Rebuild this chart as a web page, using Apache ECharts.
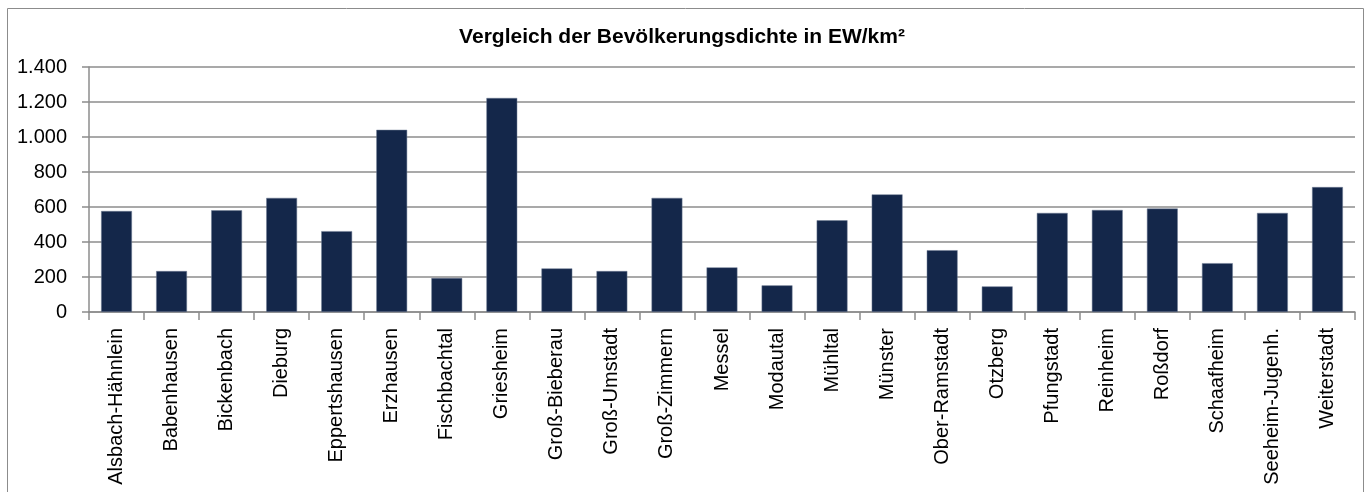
<!DOCTYPE html>
<html>
<head>
<meta charset="utf-8">
<script src="https://cdn.jsdelivr.net/npm/echarts@6/dist/echarts.min.js"></script>
<style>
  html, body { margin: 0; padding: 0; background: #fff; }
  #chart { width: 1368px; height: 492px; }
</style>
</head>
<body>
<div id="chart"></div>
<script>
var gemeinden = ['Alsbach-Hähnlein', 'Babenhausen', 'Bickenbach', 'Dieburg', 'Eppertshausen',
    'Erzhausen', 'Fischbachtal', 'Griesheim', 'Groß-Bieberau', 'Groß-Umstadt', 'Groß-Zimmern',
    'Messel', 'Modautal', 'Mühltal', 'Münster', 'Ober-Ramstadt', 'Otzberg', 'Pfungstadt',
    'Reinheim', 'Roßdorf', 'Schaafheim', 'Seeheim-Jugenh.', 'Weiterstadt'];
var dichte = [577, 234, 581, 652, 462, 1041, 194, 1223, 249, 234, 652,
    255, 152, 524, 672, 353, 146, 566, 583, 591, 279, 566, 714];

initDichteChart();

function initDichteChart() {
    var chart = echarts.init(document.getElementById('chart'));
    var option = {
        animation: false,
        textStyle: {
            fontFamily: 'Liberation Sans, Arial, sans-serif'
        },
        title: {
            text: 'Vergleich der Bevölkerungsdichte in EW/km²',
            left: 677,
            top: 22,
            textAlign: 'center',
            textStyle: {
                fontFamily: 'Liberation Sans, Arial, sans-serif',
                fontSize: 21,
                fontWeight: 'bold',
                color: '#000'
            }
        },
        // Rahmen um das Diagramm
        graphic: [{
            type: 'rect',
            shape: { x: 7.5, y: 8.5, width: 1356, height: 520 },
            style: { fill: 'none', stroke: '#8c8c8c', lineWidth: 1 },
            silent: true
        }],
        grid: {
            left: 89,
            right: 13,
            top: 67,
            bottom: 180,
            containLabel: false
        },
        xAxis: {
            type: 'category',
            data: gemeinden,
            axisLine: { lineStyle: { color: '#8c8c8c', width: 1.5 } },
            axisTick: { show: true, length: 8, lineStyle: { color: '#8c8c8c', width: 1.5 } },
            axisLabel: {
                interval: 0,
                rotate: 90,
                margin: 16,
                fontSize: 20,
                color: '#000'
            }
        },
        yAxis: {
            type: 'value',
            min: 0,
            max: 1400,
            interval: 200,
            axisLine: { show: true, lineStyle: { color: '#8c8c8c', width: 1.5 } },
            axisTick: { show: true, length: 7, lineStyle: { color: '#8c8c8c', width: 1.5 } },
            splitLine: { lineStyle: { color: '#8c8c8c', width: 1.5 } },
            axisLabel: {
                margin: 22,
                fontSize: 20,
                color: '#000',
                formatter: function (v) {
                    return String(v).replace(/\B(?=(\d{3})+(?!\d))/g, '.');
                }
            }
        },
        series: [{
            name: 'EW/km²',
            type: 'bar',
            data: dichte,
            barCategoryGap: '44%',
            itemStyle: {
                color: '#14274a',
                borderColor: '#6f7d94',
                borderWidth: 0.5
            }
        }]
    };
    chart.setOption(option);
}
</script>
</body>
</html>
